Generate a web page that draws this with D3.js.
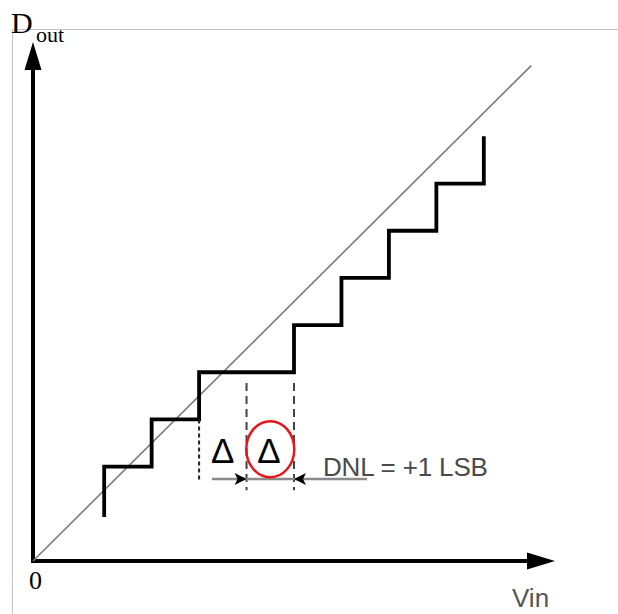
<!DOCTYPE html>
<html>
<head>
<meta charset="utf-8">
<script src="https://cdn.jsdelivr.net/npm/d3@7"></script>
<style>
  html, body { margin: 0; padding: 0; background: #fff; }
  svg { display: block; }
</style>
</head>
<body>
<svg id="chart" width="618" height="614"></svg>
<script>
// transfer curve of the ADC, in LSB units
let stairX = [1.5, 1.5, 2.5, 3.5, 5.5, 6.5, 7.5, 8.5, 9.5]
let stairY = [0.93, 2, 3, 4, 5, 6, 7, 8, 9]
// ideal line
let idealX = [0, 10.5]
let idealY = [0, 10.5]
// dashed guides
let guideX = [3.5, 4.5, 5.5]
let guideTop = [3, 3.77, 3.77]
let guideBottom = [1.67, 1.5, 1.5]
let guideDash = ["4,3", "8,5", "8,5"]
// annotation
let arrowY = 1.74
let arrowFrom = 3.77, arrowTo = 7.04
let arrowTips = [4.5, 5.5]
let deltaX = [4.0, 4.97]
let deltaY = 2.07
let circleAt = [5.0, 2.37]
let dnlLabel = "DNL = +1 LSB"
let dnlAt = [6.11, 1.8]
let axisMax = 11

let svg = d3.select("#chart")
let x = d3.scaleLinear().domain([0, axisMax]).range([33, 555])
let y = d3.scaleLinear().domain([0, axisMax]).range([561, 42])

// frame
svg.append("line").attr("x1", 12).attr("x2", 618).attr("y1", 29.5).attr("y2", 29.5)
	.attr("stroke", "#c4c4c4").attr("stroke-width", 1)
svg.append("line").attr("x1", 12.5).attr("x2", 12.5).attr("y1", 29).attr("y2", 614)
	.attr("stroke", "#c4c4c4").attr("stroke-width", 1)

// axes
let aLen = 28, aHalf = 8.5
svg.append("line").attr("x1", x(0)).attr("y1", y(0)).attr("x2", x(axisMax) - aLen + 2).attr("y2", y(0))
	.attr("stroke", "#000").attr("stroke-width", 4)
svg.append("line").attr("x1", x(0)).attr("y1", y(0) + 2).attr("x2", x(0)).attr("y2", y(axisMax) + aLen - 2)
	.attr("stroke", "#000").attr("stroke-width", 4)
svg.append("path")
	.attr("d", `M${x(axisMax)},${y(0)} L${x(axisMax) - aLen},${y(0) - aHalf} L${x(axisMax) - aLen},${y(0) + aHalf} Z`)
	.attr("fill", "#000")
svg.append("path")
	.attr("d", `M${x(0)},${y(axisMax)} L${x(0) - aHalf},${y(axisMax) + aLen} L${x(0) + aHalf},${y(axisMax) + aLen} Z`)
	.attr("fill", "#000")

// ideal line
svg.append("path")
	.datum(d3.zip(idealX, idealY))
	.attr("d", d3.line().x(d => x(d[0])).y(d => y(d[1])))
	.attr("fill", "none").attr("stroke", "#7a7a7a").attr("stroke-width", 1.6)

// staircase
svg.append("path")
	.datum(d3.zip(stairX, stairY))
	.attr("d", d3.line().x(d => x(d[0])).y(d => y(d[1])).curve(d3.curveStepAfter))
	.attr("fill", "none").attr("stroke", "#000").attr("stroke-width", 3.8)
	.attr("stroke-linejoin", "miter").attr("stroke-linecap", "butt")

// dashed guides
guideX.forEach((g, i) => {
	svg.append("line")
		.attr("x1", x(g)).attr("x2", x(g))
		.attr("y1", y(guideTop[i])).attr("y2", y(guideBottom[i]))
		.attr("stroke", i == 0 ? "#222" : "#444").attr("stroke-width", 2)
		.attr("stroke-dasharray", guideDash[i])
})

// DNL arrow
svg.append("line")
	.attr("x1", x(arrowFrom)).attr("x2", x(arrowTo))
	.attr("y1", y(arrowY)).attr("y2", y(arrowY))
	.attr("stroke", "#8a8a8a").attr("stroke-width", 2.5)
arrowTips.forEach((t, i) => {
	let back = i == 0 ? -12 : 12
	let tx = x(t), ty = y(arrowY)
	svg.append("path")
		.attr("d", `M${tx},${ty} L${tx + back},${ty - 6} L${tx + back * 0.75},${ty} L${tx + back},${ty + 6} Z`)
		.attr("fill", "#000")
})

// delta labels
deltaX.forEach(d => {
	svg.append("text")
		.attr("x", x(d)).attr("y", y(deltaY))
		.attr("text-anchor", "middle")
		.style("font-family", "'Liberation Sans', Arial, sans-serif")
		.style("font-size", "35px")
		.attr("fill", "#000")
		.text("Δ")
})

svg.append("ellipse")
	.attr("cx", x(circleAt[0])).attr("cy", y(circleAt[1]))
	.attr("rx", 24).attr("ry", 28)
	.attr("fill", "none").attr("stroke", "#e8141b").attr("stroke-width", 2.5)

svg.append("text")
	.attr("x", x(dnlAt[0])).attr("y", y(dnlAt[1]))
	.style("font-family", "'Liberation Sans', Arial, sans-serif")
	.style("font-size", "26px")
	.attr("fill", "#4a4a4a")
	.attr("textLength", 165)
	.text(dnlLabel)

// axis labels
let dout = svg.append("text").attr("x", 11).attr("y", 33)
	.style("font-family", "'Liberation Serif', 'Times New Roman', serif")
	.attr("fill", "#000")
dout.append("tspan").style("font-size", "30px").text("D")
dout.append("tspan").attr("x", 36).attr("y", 42).style("font-size", "22px").text("out")

svg.append("text").attr("x", 29).attr("y", 589)
	.style("font-family", "'Liberation Serif', 'Times New Roman', serif")
	.style("font-size", "26px").attr("fill", "#000")
	.text("0")

svg.append("text").attr("x", 512).attr("y", 607)
	.style("font-family", "'Liberation Sans', Arial, sans-serif")
	.style("font-size", "26px").attr("fill", "#555")
	.text("Vin")
</script>
</body>
</html>
